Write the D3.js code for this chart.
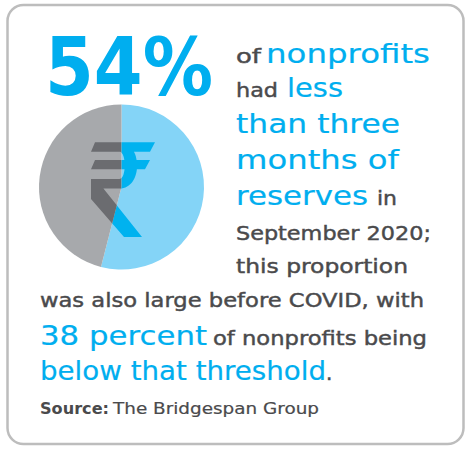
<!DOCTYPE html>
<html>
<head>
<meta charset="utf-8">
<script src="https://cdn.jsdelivr.net/npm/d3@7"></script>
<style>
  html, body { margin: 0; padding: 0; background: #fff; }
  svg { display: block; }
  text { font-family: "DejaVu Sans", sans-serif; }
</style>
</head>
<body>
<div id="chart"></div>
<script>
// pie values: share of nonprofits with < 3 months of reserves (Sept 2020)
const sliceLabels = ["Less than three months of reserves", "Three months or more"];
const sliceValues = [54, 46];
const headline = "54%";

// text lines, each a list of [text, style]
const textLines = [
    [["of", "dark"], ["nonprofits", "blue"]],
    [["had", "dark"], ["less", "blue"]],
    [["than three", "blue"]],
    [["months of", "blue"]],
    [["reserves", "blue"], ["in", "dark"]],
    [["September 2020;", "dark"]],
    [["this proportion", "dark"]],
    [["was also large before COVID, with", "dark"]],
    [["38 percent", "blue"], ["of nonprofits being", "dark"]],
    [["below that threshold", "blue"], [".", "dark"]],
    [["Source:", "bold"], ["The Bridgespan Group", "src"]]
];

// layout: baseline of each line and [start, end] x of each segment
const lineBase = [63.3, 96.7, 132.5, 168.5, 205, 240, 272.5, 307.3, 345, 380, 414];
const segSpan = [
    [[236, 260], [266, 429]],
    [[236, 277], [287, 342]],
    [[236, 399]],
    [[236, 398]],
    [[236, 367], [377, 396]],
    [[236, 430]],
    [[236, 407]],
    [[40, 423]],
    [[40, 206], [213, 426]],
    [[40, 325], [326, 330]],
    [[40, 108], [113, 318]]
];

const width = 471, height = 454;
const cx = 121.5, cy = 187, radius = 82.5;

const styles = {
    dark: { size: 20, fill: "#4a4a4c", weight: "normal", stroke: 0.45 },
    blue: { size: 27, fill: "#00aeef", weight: "normal", stroke: 0.2 },
    bold: { size: 15.5, fill: "#4a4a4c", weight: "bold", stroke: 0 },
    src:  { size: 15.5, fill: "#4a4a4c", weight: "normal", stroke: 0.2 }
};

const svg = d3.select("#chart")
    .append("svg")
    .attr("width", width)
    .attr("height", height);

// Card border
svg.append("rect")
    .attr("x", 7.5)
    .attr("y", 5)
    .attr("width", 456)
    .attr("height", 439)
    .attr("rx", 16)
    .attr("fill", "#fff")
    .attr("stroke", "#bdbdbd")
    .attr("stroke-width", 2.5);

// Headline number
svg.append("text")
    .attr("x", 45)
    .attr("y", 95)
    .attr("textLength", 168)
    .attr("lengthAdjust", "spacingAndGlyphs")
    .style("font-size", "80px")
    .style("font-weight", "bold")
    .style("fill", "#00aeef")
    .text(headline);

// Pie
const color = d3.scaleOrdinal()
    .domain(sliceLabels)
    .range(["#84d4f7", "#a7a9ac"]);
const iconColor = d3.scaleOrdinal()
    .domain(sliceLabels)
    .range(["#00b2ef", "#6b6c70"]);

const pie = d3.pie().sort(null).value(d => d.value);
const arcs = pie(sliceLabels.map((label, i) => ({ label, value: sliceValues[i] })));
const arc = d3.arc().innerRadius(0).outerRadius(radius);

const g = svg.append("g").attr("transform", `translate(${cx},${cy})`);

const defs = svg.append("defs");
arcs.forEach((d, i) => {
    defs.append("clipPath")
        .attr("id", "slice-" + i)
        .append("path")
        .attr("d", arc(d));
});

g.selectAll("path.slice")
    .data(arcs)
    .enter().append("path")
    .attr("class", "slice")
    .attr("d", arc)
    .attr("fill", d => color(d.data.label));

// Rupee sign, drawn once per slice and clipped to it
const k = radius / 82.5;
const rupee = [
    "M-26.5,-44.7 L33.5,-44.7 L28.5,-35.3 L-30.5,-35.3 Z",
    "M-26.5,-27 L28.5,-27 L23.5,-17.7 L-30.5,-17.7 Z",
    "M-2,-44.7 C21.5,-44.7 21.5,1.5 -2,1.5 L-30.5,1.5 L-30.5,-8 L-2,-8 C5,-8 5,-35.3 -2,-35.3 Z",
    "M-30.5,1 L-18.5,1 L20.5,50 L2.5,50 L-30.5,12 Z"
].join(" ");

arcs.forEach((d, i) => {
    g.append("g")
        .attr("clip-path", `url(#slice-${i})`)
        .append("path")
        .attr("transform", `scale(${k})`)
        .attr("d", rupee)
        .attr("fill", iconColor(d.data.label));
});

// Text block: each segment stretched to fill its span
textLines.forEach((parts, li) => {
    parts.forEach(([str, key], si) => {
        const s = styles[key];
        const [x0, x1] = segSpan[li][si];
        const t = svg.append("text")
            .attr("x", x0)
            .attr("y", lineBase[li])
            .style("font-size", s.size + "px")
            .style("font-weight", s.weight)
            .style("fill", s.fill)
            .style("stroke", s.fill)
            .style("stroke-width", s.stroke)
            .text(str);
        if (str.length > 1) {
            t.attr("textLength", x1 - x0 + 1)
                .attr("lengthAdjust", "spacingAndGlyphs");
        }
    });
});
</script>
</body>
</html>
